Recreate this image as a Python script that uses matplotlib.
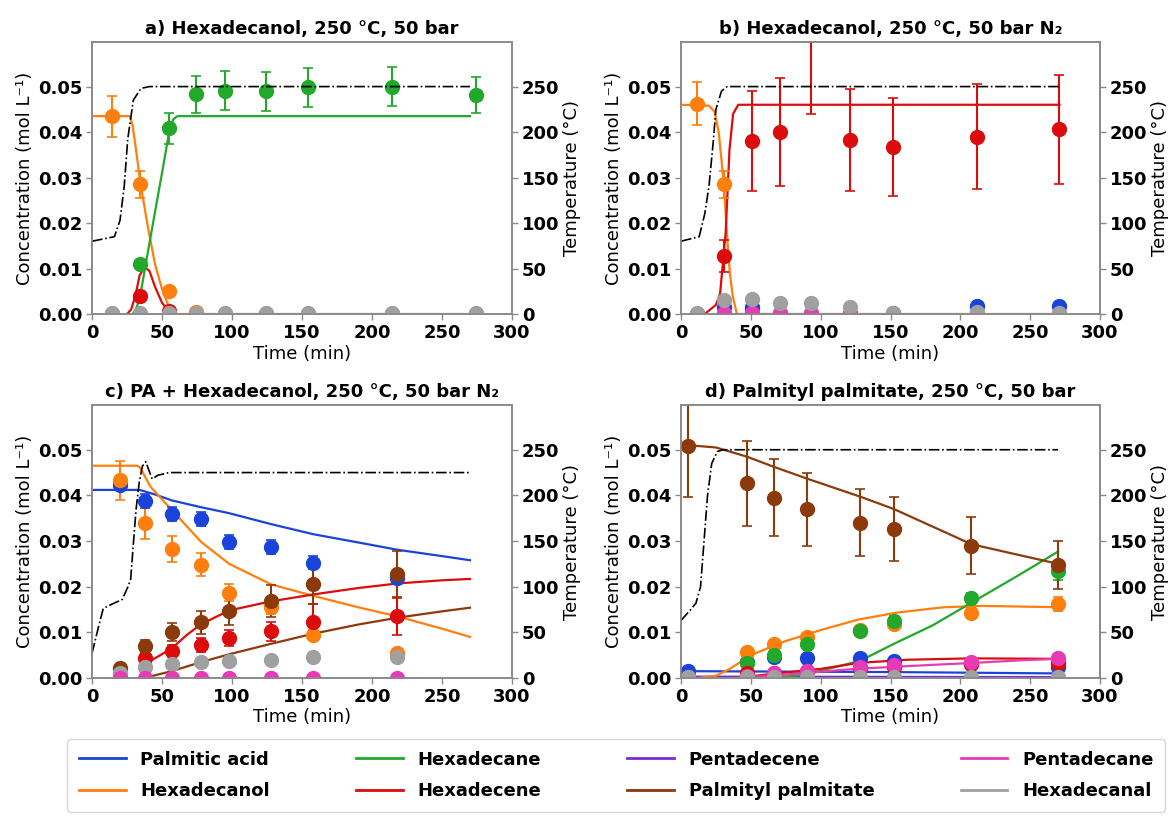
import matplotlib
matplotlib.use('Agg')
import matplotlib.pyplot as plt
from matplotlib.lines import Line2D

plt.rcParams['font.family'] = ['DejaVu Sans']
plt.rcParams['font.weight'] = 'bold'
plt.rcParams['font.size'] = 13

# colours of the species
C_PA = '#1a44d9'     # palmitic acid
C_OL = '#ff7f0e'     # hexadecanol
C_ANE = '#22a82a'    # hexadecane
C_ENE = '#dc0c0c'    # hexadecene
C_PDE = '#7d2ad4'    # pentadecene
C_PP = '#8c3a0c'     # palmityl palmitate
C_PDA = '#e83ab5'    # pentadecane
C_AL = '#a0a0a0'     # hexadecanal

# ---------------- panel a ----------------
a_t = [14, 34, 55, 74, 95, 124, 154, 214, 274]
a_ol = [0.0435, 0.0285, 0.0050, 0.0004, 0, 0, 0, 0, 0]
a_ol_err = [0.0045, 0.0030, 0.0005, 0, 0, 0, 0, 0, 0]
a_ane = [0, 0.0110, 0.0408, 0.0483, 0.0491, 0.0490, 0.0498, 0.0500, 0.0481]
a_ane_err = [0, 0.0008, 0.0035, 0.0040, 0.0043, 0.0043, 0.0043, 0.0043, 0.0040]
a_ene = [0, 0.0040, 0.0007, 0, 0, 0, 0, 0, 0]
a_al = [0.0002] * 9

a_m_ol_t = [0, 27, 29, 31.5, 34.4, 40, 45, 50, 55, 59, 270]
a_m_ol = [0.0435, 0.0435, 0.0415, 0.0360, 0.0291, 0.0190, 0.0110, 0.0055, 0.0015, 0, 0]
a_m_ane_t = [29, 32, 35, 40, 45, 50, 55, 58, 61, 270]
a_m_ane = [0, 0.0015, 0.0050, 0.0138, 0.0224, 0.0310, 0.0398, 0.0428, 0.0435, 0.0435]
a_m_ene_t = [25, 28, 31, 34, 37.6, 41, 45, 50, 55, 58]
a_m_ene = [0, 0.0010, 0.0040, 0.0085, 0.0103, 0.0095, 0.0060, 0.0025, 0.0005, 0]
a_temp_t = [0, 16, 20, 23, 25.5, 29.5, 35, 41, 270]
a_temp = [80, 85, 103, 140, 192, 235, 248, 250, 250]

# ---------------- panel b ----------------
b_t = [11.5, 30.7, 50.7, 70.7, 93, 120.8, 152, 212, 271]
b_ol = [0.0462, 0.0285, 0.0012, 0, 0, 0, 0, 0, 0]
b_ol_err = [0.0047, 0.0030, 0, 0, 0, 0, 0, 0, 0]
b_ene = [0, 0.0127, 0.0380, 0.0400, 0.0620, 0.0383, 0.0367, 0.0390, 0.0406]
b_ene_err = [0, 0.0035, 0.0110, 0.0118, 0.0180, 0.0112, 0.0107, 0.0115, 0.0120]
b_pa = [0, 0.0015, 0.0015, 0, 0, 0, 0, 0.0017, 0.0017]
b_pda = [0, 0.0002, 0.0002, 0.0002, 0.0002, 0, 0, 0, 0]
b_pde = [0, 0, 0, 0, 0, 0, 0.0003, 0, 0]
b_al = [0.0002, 0.0030, 0.0033, 0.0024, 0.0025, 0.0015, 0.0003, 0.0005, 0.0003]

b_m_ol_t = [0, 20, 24, 27, 30.7, 33, 35, 37, 40, 271]
b_m_ol = [0.0460, 0.0458, 0.0445, 0.0400, 0.0285, 0.0170, 0.0090, 0.0040, 0, 0]
b_m_ene_t = [17, 25, 28, 32, 34.7, 37.3, 41, 271]
b_m_ene = [0, 0.0020, 0.0045, 0.0180, 0.0360, 0.0440, 0.0460, 0.0460]
b_temp_t = [0, 13, 17, 20, 23, 25, 29, 33, 271]
b_temp = [80, 85, 110, 140, 188, 225, 245, 250, 250]

# ---------------- panel c ----------------
c_t = [20.3, 37.8, 57, 78, 98, 127.6, 158, 217.6]
c_pa = [0.0422, 0.0388, 0.0360, 0.0348, 0.0298, 0.0287, 0.0253, 0.0220]
c_pa_err = [0.0010, 0.0015, 0.0015, 0.0015, 0.0015, 0.0015, 0.0015, 0.0015]
c_ol = [0.0433, 0.0340, 0.0283, 0.0248, 0.0187, 0.0155, 0.0095, 0.0055]
c_ol_err = [0.0043, 0.0035, 0.0028, 0.0025, 0.0019, 0.0015, 0.0010, 0.0005]
c_ene = [0, 0.0043, 0.0060, 0.0073, 0.0088, 0.0102, 0.0123, 0.0135]
c_ene_err = [0, 0.0010, 0.0013, 0.0015, 0.0018, 0.0020, 0.0040, 0.0040]
c_pp = [0.0022, 0.0070, 0.0100, 0.0122, 0.0147, 0.0168, 0.0207, 0.0228]
c_pp_err = [0.0005, 0.0013, 0.0020, 0.0025, 0.0030, 0.0035, 0.0045, 0.0050]
c_al = [0.0012, 0.0025, 0.0030, 0.0034, 0.0037, 0.0040, 0.0045, 0.0046]
c_pda = [0, 0, 0, 0, 0, 0, 0, 0]

c_m_pa_t = [0, 34, 45, 57, 78, 98, 128, 158, 190, 218, 250, 270]
c_m_pa = [0.0412, 0.0412, 0.0402, 0.0389, 0.0374, 0.0361, 0.0337, 0.0315, 0.0297, 0.0281, 0.0267, 0.0258]
c_m_ol_t = [0, 32, 34, 36, 38.4, 42, 48.6, 57, 78, 98, 128, 158, 190, 218, 250, 270]
c_m_ol = [0.0465, 0.0465, 0.0462, 0.0452, 0.0438, 0.0418, 0.0396, 0.0368, 0.0298, 0.0250, 0.0205, 0.0180, 0.0155, 0.0135, 0.0108, 0.0090]
c_m_ene_t = [35, 40, 46, 57, 68, 78, 98, 128, 158, 190, 218, 250, 270]
c_m_ene = [0.0025, 0.0035, 0.0045, 0.0065, 0.0095, 0.0118, 0.0148, 0.0168, 0.0183, 0.0197, 0.0207, 0.0214, 0.0217]
c_m_pp_t = [37, 57, 78, 98, 128, 158, 190, 218, 250, 270]
c_m_pp = [0, 0.0015, 0.0035, 0.0052, 0.0075, 0.0097, 0.0117, 0.0132, 0.0146, 0.0154]
c_temp_t = [0, 4, 8, 13, 21.6, 25.7, 27.6, 29.7, 31.5, 33.8, 36, 38.4, 40.5, 43, 47, 55, 270]
c_temp = [27, 52, 76, 80, 86, 100, 108, 150, 185, 215, 232, 237, 228, 218, 222, 225, 225]

# ---------------- panel d ----------------
d_t = [5, 47.2, 66.7, 90, 128.5, 152.5, 207.7, 270]
d_pp = [0.0508, 0.0427, 0.0395, 0.0370, 0.0340, 0.0327, 0.0290, 0.0248]
d_pp_err = [0.0112, 0.0093, 0.0085, 0.0080, 0.0073, 0.0070, 0.0063, 0.0053]
d_ol = [0, 0.0057, 0.0075, 0.0090, 0.0105, 0.0118, 0.0143, 0.0162]
d_ol_err = [0, 0.0005, 0.0007, 0.0008, 0.0010, 0.0010, 0.0012, 0.0015]
d_ane = [0, 0.0032, 0.0050, 0.0075, 0.0103, 0.0125, 0.0175, 0.0235]
d_ane_err = [0, 0.0003, 0.0005, 0.0007, 0.0008, 0.0010, 0.0012, 0.0020]
d_pa = [0.0015, 0.0035, 0.0045, 0.0043, 0.0043, 0.0038, 0.0030, 0.0025]
d_ene = [0.0003, 0.0012, 0.0012, 0.0015, 0.0020, 0.0025, 0.0030, 0.0032]
d_pda = [0.0002, 0.0005, 0.0010, 0.0015, 0.0025, 0.0028, 0.0035, 0.0043]
d_al = [0.0003] * 8

d_m_pp_t = [5, 25, 47, 67, 90, 128.5, 152.5, 208, 270]
d_m_pp = [0.0510, 0.0505, 0.0485, 0.0462, 0.0437, 0.0397, 0.0370, 0.0293, 0.0250]
d_m_ol_t = [0, 12, 25, 35, 50, 74, 100, 127, 154, 188, 215, 270]
d_m_ol = [0, 0, 0.0005, 0.0020, 0.0050, 0.0080, 0.0105, 0.0128, 0.0143, 0.0155, 0.0158, 0.0155]
d_m_ane_t = [68, 90, 128.5, 152.5, 180, 208, 240, 270]
d_m_ane = [0, 0.0008, 0.0038, 0.0075, 0.0115, 0.0165, 0.0222, 0.0277]
d_m_ene_t = [40, 68, 100, 127, 162, 208, 270]
d_m_ene = [0, 0.0010, 0.0020, 0.0033, 0.0040, 0.0043, 0.0042]
d_m_pda_t = [40, 85, 125, 162, 215, 245, 270]
d_m_pda = [0, 0.0010, 0.0020, 0.0026, 0.0034, 0.0039, 0.0042]
d_m_pa_t = [0, 150, 270]
d_m_pa = [0.0015, 0.0013, 0.0010]
d_m_pde_t = [0, 270]
d_m_pde = [0.0003, 0.0002]
d_temp_t = [0, 7, 10.7, 14, 16.5, 19, 22, 26, 30, 270]
d_temp = [63, 75, 82, 100, 150, 200, 235, 248, 250, 250]

legend_names = ['Palmitic acid', 'Hexadecanol', 'Hexadecane', 'Hexadecene',
                'Pentadecene', 'Palmityl palmitate', 'Pentadecane', 'Hexadecanal']
legend_colors = [C_PA, C_OL, C_ANE, C_ENE, C_PDE, C_PP, C_PDA, C_AL]

fig = plt.figure(figsize=(11.74, 8.18), dpi=100)
W, H = 1174, 818


def box(x0, x1, ytop, ybot):
    return [x0 / W, 1 - ybot / H, (x1 - x0) / W, (ybot - ytop) / H]


def panel(rect, title, lines, points, temp_t, temp):
    ax = fig.add_axes(rect)
    for t, y, c in lines:
        ax.plot(t, y, color=c, lw=1.6, zorder=2)
    for t, y, err, c in points:
        ax.errorbar(t, y, yerr=err, fmt='o', color=c, ms=10, elinewidth=1.5,
                    capsize=3.5, capthick=1.2, zorder=3)
    ax.set_xlim(0, 300)
    ax.set_ylim(0, 0.0598)
    ax.set_xticks([0, 50, 100, 150, 200, 250, 300])
    ax.set_yticks([0, 0.01, 0.02, 0.03, 0.04, 0.05])
    ax.set_yticklabels(['0.00', '0.01', '0.02', '0.03', '0.04', '0.05'])
    ax.set_xlabel('Time (min)', fontsize=13, labelpad=2)
    ax.set_ylabel('Concentration (mol L⁻¹)', fontsize=13, labelpad=3)
    ax.set_title(title, fontsize=13, fontweight='bold', pad=6)
    ax2 = ax.twinx()
    ax2.plot(temp_t, temp, color='black', lw=1.2, ls='-.')
    ax2.set_ylim(0, 299)
    ax2.set_yticks([0, 50, 100, 150, 200, 250])
    ax2.set_ylabel('Temperature (°C)', fontsize=13, labelpad=3)
    for a in (ax, ax2):
        for s in a.spines.values():
            s.set_color('#8a8a8a')
            s.set_linewidth(1.2)
        a.tick_params(colors='#8a8a8a', labelcolor='black', labelsize=13,
                      length=4, width=1, pad=3)
    return ax


panel(box(92, 512, 42, 314), 'a) Hexadecanol, 250 °C, 50 bar',
      [(a_m_ol_t, a_m_ol, C_OL), (a_m_ane_t, a_m_ane, C_ANE), (a_m_ene_t, a_m_ene, C_ENE)],
      [(a_t, a_ol, a_ol_err, C_OL), (a_t, a_ane, a_ane_err, C_ANE),
       (a_t, a_ene, None, C_ENE), (a_t, a_al, None, C_AL)],
      a_temp_t, a_temp)

panel(box(681, 1100, 42, 314), 'b) Hexadecanol, 250 °C, 50 bar N₂',
      [(b_m_ol_t, b_m_ol, C_OL), (b_m_ene_t, b_m_ene, C_ENE)],
      [(b_t, b_ol, b_ol_err, C_OL), (b_t, b_ene, b_ene_err, C_ENE),
       (b_t, b_pa, None, C_PA), (b_t, b_pde, None, C_PDE),
       (b_t, b_pda, None, C_PDA), (b_t, b_al, None, C_AL)],
      b_temp_t, b_temp)

panel(box(92, 512, 405, 678), 'c) PA + Hexadecanol, 250 °C, 50 bar N₂',
      [(c_m_pa_t, c_m_pa, C_PA), (c_m_ol_t, c_m_ol, C_OL),
       (c_m_ene_t, c_m_ene, C_ENE), (c_m_pp_t, c_m_pp, C_PP)],
      [(c_t, c_pa, c_pa_err, C_PA), (c_t, c_ol, c_ol_err, C_OL),
       (c_t, c_ene, c_ene_err, C_ENE), (c_t, c_pp, c_pp_err, C_PP),
       (c_t, c_al, None, C_AL), (c_t, c_pda, None, C_PDA)],
      c_temp_t, c_temp)

panel(box(681, 1100, 405, 678), 'd) Palmityl palmitate, 250 °C, 50 bar',
      [(d_m_pa_t, d_m_pa, C_PA), (d_m_pde_t, d_m_pde, C_PDE),
       (d_m_ol_t, d_m_ol, C_OL), (d_m_ane_t, d_m_ane, C_ANE),
       (d_m_ene_t, d_m_ene, C_ENE), (d_m_pda_t, d_m_pda, C_PDA),
       (d_m_pp_t, d_m_pp, C_PP)],
      [(d_t, d_pa, None, C_PA), (d_t, d_ol, d_ol_err, C_OL),
       (d_t, d_ane, d_ane_err, C_ANE), (d_t, d_ene, None, C_ENE),
       (d_t, d_pp, d_pp_err, C_PP), (d_t, d_pda, None, C_PDA),
       (d_t, d_al, None, C_AL)],
      d_temp_t, d_temp)

handles = [Line2D([], [], color=c, lw=2) for c in legend_colors]
fig.legend(handles, legend_names, ncol=4, mode='expand',
           bbox_to_anchor=(67 / W, 6 / H, (1165 - 67) / W, 70 / H),
           loc='lower left', fontsize=13, handlelength=2.6, handletextpad=0.8,
           labelspacing=0.75, borderpad=0.65, frameon=True,
           edgecolor='#cccccc', fancybox=True, borderaxespad=0)

fig.savefig('out.png', dpi=100)
